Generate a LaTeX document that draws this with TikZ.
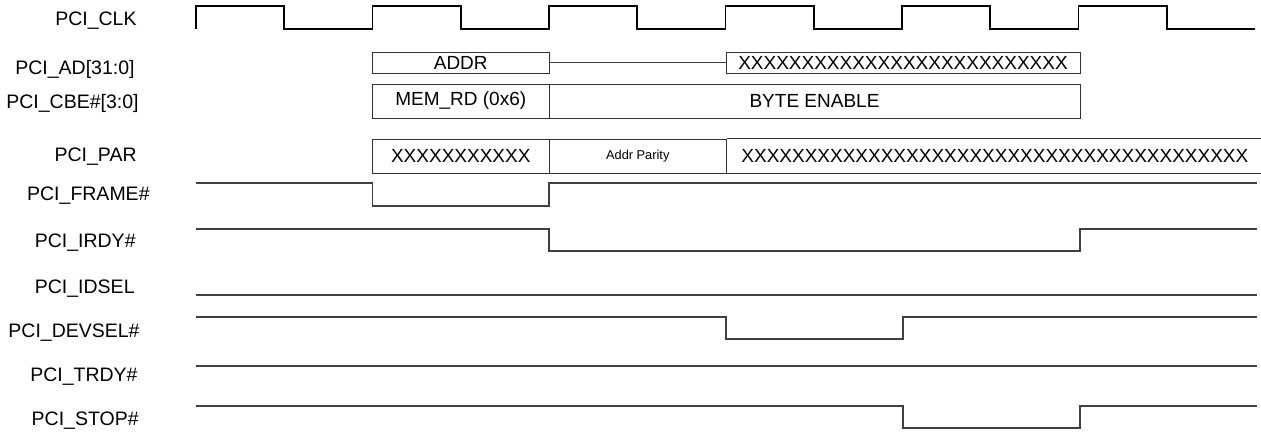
\documentclass[tikz,border=0pt]{standalone}
\usepackage{fontspec}
\setmainfont{Liberation Sans}
\usetikzlibrary{positioning}

\begin{document}
\begin{tikzpicture}[x=0.5pt,y=-0.5pt,
  lbl/.style={anchor=east, inner sep=0pt, font=\fontsize{9.75}{11}\selectfont},
  valbox/.style={draw=black!80, line width=0.5pt, inner sep=0pt, font=\fontsize{9.5}{11}\selectfont},
  clk/.style={line width=0.9pt, black},
  sig/.style={line width=0.6pt, black!75}]
\useasboundingbox (0,0) rectangle (1261,436);
% signal names
\node[lbl] (lclk) at (137,21) {PCI\_CLK};
\node[lbl] (lad) at (135,69) {PCI\_AD[31:0]};
\node[lbl] (lcbe) at (139,103) {PCI\_CBE\#[3:0]};
\node[lbl] (lpar) at (137,157) {PCI\_PAR};
\node[lbl] (lframe) at (150,196) {PCI\_FRAME\#};
\node[lbl] (lirdy) at (136,243) {PCI\_IRDY\#};
\node[lbl] (lidsel) at (135,289) {PCI\_IDSEL};
\node[lbl] (ldevsel) at (140,333) {PCI\_DEVSEL\#};
\node[lbl] (ltrdy) at (138,377) {PCI\_TRDY\#};
\node[lbl] (lstop) at (139,421) {PCI\_STOP\#};
% clock
\draw[clk] (196,29) \foreach \k in {0,...,5} { -- ++(0,-23) -- ++(88.25,0) -- ++(0,23) -- ++(88.25,0) };
% address / data
\node[valbox, minimum width=88.25pt, minimum height=10.5pt] (addr) at (460.75,62.5) {ADDR};
\node[valbox, minimum width=177pt, minimum height=10.5pt] (adxx) at (903,62.5) {XXXXXXXXXXXXXXXXXXXXXXXXXX};
\draw[sig, line width=0.5pt] (addr.east) -- (adxx.west);
% command / byte enables
\node[valbox, minimum width=88.25pt, minimum height=17pt] (memrd) at (460.75,101) {MEM\_RD (0x6)};
\node[valbox, minimum width=265.5pt, minimum height=17pt] (byten) at (814.5,101) {BYTE ENABLE};
% parity
\node[valbox, minimum width=88.25pt, minimum height=17pt] (parxa) at (460.75,156) {XXXXXXXXXXX};
\node[valbox, minimum width=88.5pt, minimum height=17pt, font=\fontsize{6.4}{7}\selectfont] (parap) at (637.75,156) {Addr Parity};
\draw[black!80, line width=0.5pt] (parap.north east) -- ++(535,0) (parap.south east) -- ++(535,0);
\node[anchor=west, inner sep=0pt, font=\fontsize{9.5}{11}\selectfont] (parxb) at (741,156) {XXXXXXXXXXXXXXXXXXXXXXXXXXXXXXXXXXXXXXXX};
% control lines
\draw[sig] (196,183) -- (372.5,183) -- (372.5,206) -- (549,206) -- (549,183) -- (1257,183);
\draw[sig] (196,229) -- (549,229) -- (549,251) -- (1080,251) -- (1080,229) -- (1257,229);
\draw[sig] (196,295) -- (1257,295);
\draw[sig] (196,317) -- (726,317) -- (726,339) -- (903,339) -- (903,317) -- (1257,317);
\draw[sig] (196,366) -- (1257,366);
\draw[sig] (196,406) -- (903,406) -- (903,428) -- (1080,428) -- (1080,406) -- (1257,406);
\end{tikzpicture}
\end{document}
